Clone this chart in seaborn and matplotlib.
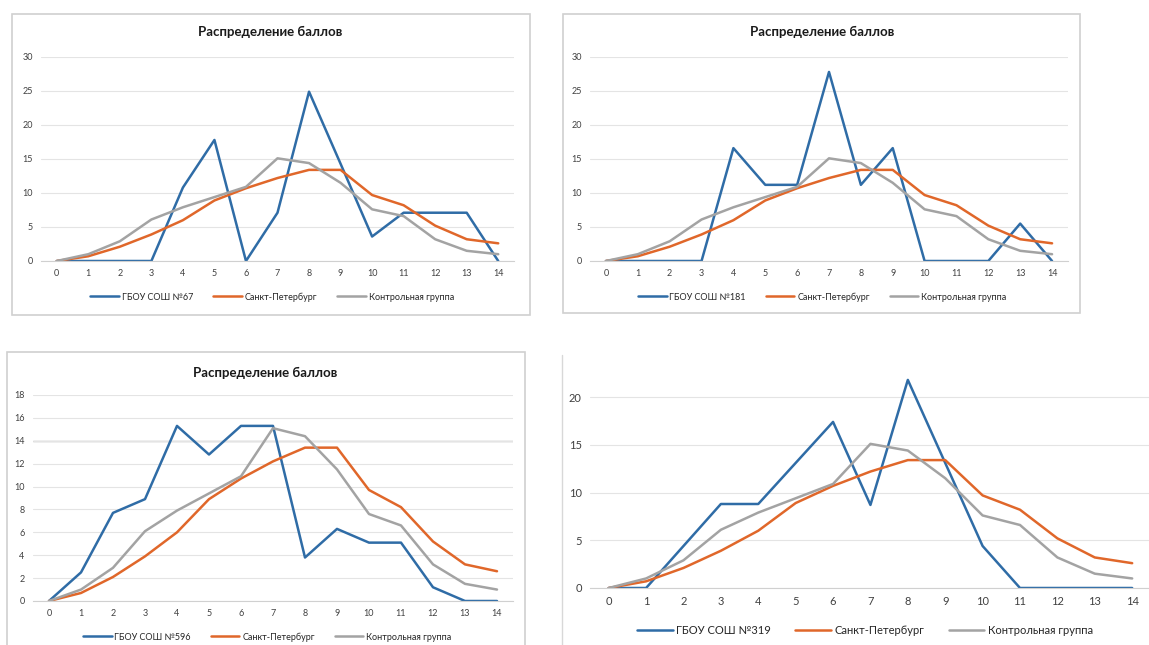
import pandas as pd
import seaborn as sns
import matplotlib.pyplot as plt
from matplotlib.patches import Rectangle

# scores 0..14
scores = list(range(15))

# common series (same in every chart)
spb = [0, 0.7, 2.1, 3.9, 6.0, 8.9, 10.7, 12.2, 13.4, 13.4, 9.7, 8.2, 5.2, 3.2, 2.6]
control = [0, 1.0, 2.9, 6.1, 7.9, 9.4, 10.9, 15.1, 14.4, 11.5, 7.6, 6.6, 3.2, 1.5, 1.0]

# school series
school_67 = [0, 0, 0, 0, 10.8, 17.8, 0, 7.1, 24.9, 14.3, 3.6, 7.1, 7.1, 7.1, 0]
school_181 = [0, 0, 0, 0, 16.6, 11.2, 11.2, 27.8, 11.2, 16.6, 0, 0, 0, 5.5, 0]
school_596 = [0, 2.5, 7.7, 8.9, 15.3, 12.8, 15.3, 15.3, 3.8, 6.3, 5.1, 5.1, 1.2, 0, 0]
school_319 = [0, 0, 4.4, 8.8, 8.8, 13.1, 17.4, 8.7, 21.8, 13.1, 4.4, 0, 0, 0, 0]

names = ['ГБОУ СОШ №67', 'ГБОУ СОШ №181', 'ГБОУ СОШ №596', 'ГБОУ СОШ №319']
spb_label = 'Санкт-Петербург'
control_label = 'Контрольная группа'
title = 'Распределение баллов'

BLUE = '#2F6CA6'
ORANGE = '#E0672A'
GRAY = '#A3A3A3'

W, H = 1149, 645
sns.set_style('white')
plt.rcParams['font.family'] = ['Lato', 'DejaVu Sans']

fig = plt.figure(figsize=(W / 100, H / 100), dpi=100)


def px_axes(x0, x1, ytop, ybot):
    return fig.add_axes([x0 / W, 1 - ybot / H, (x1 - x0) / W, (ybot - ytop) / H])


def box(x0, x1, ytop, ybot):
    fig.patches.append(Rectangle((x0 / W, 1 - ybot / H), (x1 - x0) / W, (ybot - ytop) / H,
                                 transform=fig.transFigure, fill=False,
                                 edgecolor='#D0D0D0', lw=1.2))


def panel(ax, school, name, ymax, yticks, ylim, xlim, fs, leg_xy, show_title, title_xy=None):
    df = pd.DataFrame({'score': scores, name: school, spb_label: spb, control_label: control})
    for col, c in [(name, BLUE), (spb_label, ORANGE), (control_label, GRAY)]:
        sns.lineplot(data=df, x='score', y=col, ax=ax, color=c, lw=1.8, label=col, legend=False)
    ax.set_xlim(*xlim)
    ax.set_ylim(*ylim)
    ax.set_xticks(scores)
    ax.set_yticks(yticks)
    ax.tick_params(labelsize=fs, colors='#404040', length=0, pad=6)
    ax.set_xlabel('')
    ax.set_ylabel('')
    ax.grid(axis='y', color='#E4E4E4', lw=0.8)
    ax.set_axisbelow(True)
    for s in ['top', 'right', 'left']:
        ax.spines[s].set_visible(False)
    ax.spines['bottom'].set_color('#D0D0D0')
    ax.patch.set_alpha(0)
    h, l = ax.get_legend_handles_labels()
    fig.legend(h, l, loc='center', bbox_to_anchor=(leg_xy[0] / W, 1 - leg_xy[1] / H),
               ncol=3, frameon=False, fontsize=fs, handlelength=3.2, columnspacing=2.2,
               handletextpad=0.3)
    if show_title:
        fig.text(title_xy[0] / W, 1 - title_xy[1] / H, title, ha='center', va='center',
                 fontsize=9.5, fontweight='bold', color='#1A1A1A')


# chart frames
box(12, 530, 14, 315)
box(563, 1080, 14, 313)
box(7, 525, 352, 660)
fig.add_artist(plt.Line2D([562 / W, 562 / W], [0, 1 - 355 / H], transform=fig.transFigure,
                          color='#D8D8D8', lw=1))

# top-left
ax1 = px_axes(41, 514, 57, 261)
panel(ax1, school_67, names[0], 30, range(0, 31, 5), (0, 30), (-0.5, 14.5), 6.5,
      (272, 297), True, (270, 32))

# top-right
ax2 = px_axes(590, 1068, 57, 261)
panel(ax2, school_181, names[1], 30, range(0, 31, 5), (0, 30), (-0.5, 14.5), 6.5,
      (822, 297), True, (822, 32))

# bottom-left
ax3 = px_axes(33, 513, 395, 601)
panel(ax3, school_596, names[2], 18, range(0, 19, 2), (0, 18), (-0.5, 14.5), 6.5,
      (267, 637), True, (265, 373))
ax3.axhline(14, color='#B0B0B0', lw=1, zorder=0)

# bottom-right
ax4 = px_axes(590, 1149, 378, 588)
panel(ax4, school_319, names[3], 22, range(0, 21, 5), (0, 22), (-0.5, 14.45), 8,
      (865, 630), False)

fig.savefig('out.png', dpi=100)
